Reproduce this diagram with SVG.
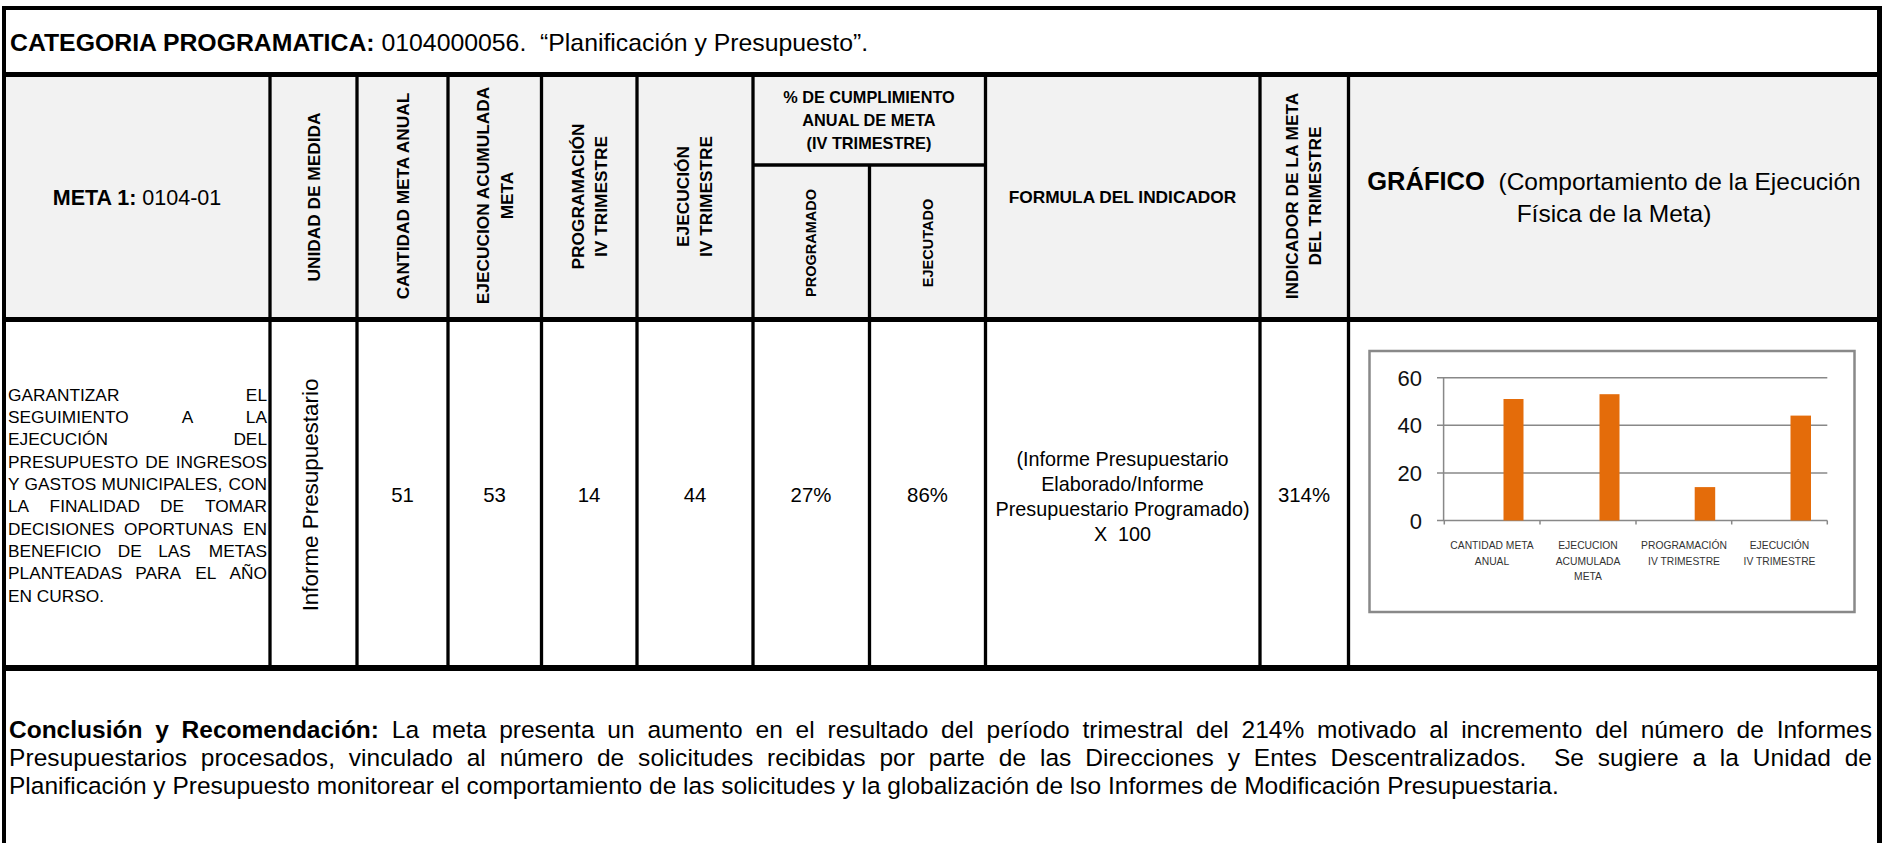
<svg xmlns="http://www.w3.org/2000/svg" width="1885" height="843" viewBox="0 0 1885 843">
<style>
text { font-family: "Liberation Sans", Arial, sans-serif; fill: #000; }
.b { font-weight: bold; }
.hv { font-size: 17.3px; font-weight: bold; text-anchor: middle; }
.hs { font-size: 14.5px; font-weight: bold; text-anchor: middle; }
.hh { font-size: 16.3px; font-weight: bold; text-anchor: middle; }
.num { font-size: 20.4px; text-anchor: middle; }
.body { font-size: 17.3px; }
.end { text-anchor: end; }
.frm { font-size: 19.8px; text-anchor: middle; }
.big { font-size: 24.5px; }
.thin { stroke: #000; stroke-width: 3.3; fill: none; }
.thick { stroke: #000; stroke-width: 5; fill: none; }
.grid { stroke: #888888; stroke-width: 1.5; fill: none; }
.bar { fill: #E46C0A; }
.yl { font-family: "Liberation Sans", Arial, sans-serif; font-size: 22px; text-anchor: end; fill: #111; }
.xl { font-size: 10.3px; text-anchor: middle; fill: #333; }
</style>
<rect x="0" y="0" width="1885" height="843" fill="#fff"/>
<rect x="6" y="77" width="1871" height="240" fill="#F2F2F2"/>

<g id="table-lines">
  <line class="thick" x1="2" y1="8" x2="1882" y2="8" style="stroke-width:4"/>
  <line class="thick" x1="4" y1="6" x2="4" y2="843" style="stroke-width:4"/>
  <line class="thick" x1="1879.5" y1="6" x2="1879.5" y2="843"/>
  <line class="thick" x1="2" y1="74.5" x2="1882" y2="74.5"/>
  <line class="thick" x1="2" y1="319.5" x2="1882" y2="319.5"/>
  <line class="thick" x1="2" y1="668" x2="1882" y2="668" style="stroke-width:6"/>
  <line class="thin" x1="270" y1="77" x2="270" y2="666"/>
  <line class="thin" x1="357" y1="77" x2="357" y2="666"/>
  <line class="thin" x1="448" y1="77" x2="448" y2="666"/>
  <line class="thin" x1="541.5" y1="77" x2="541.5" y2="666"/>
  <line class="thin" x1="637" y1="77" x2="637" y2="666"/>
  <line class="thin" x1="753" y1="77" x2="753" y2="666"/>
  <line class="thin" x1="869.5" y1="165" x2="869.5" y2="666"/>
  <line class="thin" x1="985.5" y1="77" x2="985.5" y2="666"/>
  <line class="thin" x1="1260" y1="77" x2="1260" y2="666"/>
  <line class="thin" x1="1348.5" y1="77" x2="1348.5" y2="666"/>
  <line class="thin" x1="753" y1="165" x2="985.5" y2="165"/>
</g>

<g id="title">
  <text x="10" y="50.5" style="font-size:24.8px"><tspan class="b">CATEGORIA PROGRAMATICA:</tspan> 0104000056.&#160; “Planificación y Presupuesto”.</text>
</g>

<g id="header">
  <text x="137" y="205" text-anchor="middle" style="font-size:21.5px"><tspan class="b">META 1:</tspan> 0104-01</text>
  <g transform="translate(313.5,197) rotate(-90)"><text class="hv" x="0" y="6.2">UNIDAD DE MEDIDA</text></g>
  <g transform="translate(402.5,196) rotate(-90)"><text class="hv" x="0" y="6.2">CANTIDAD META ANUAL</text></g>
  <g transform="translate(494.5,195.5) rotate(-90)"><text class="hv" x="0" y="-5.5">EJECUCION ACUMULADA</text><text class="hv" x="0" y="18">META</text></g>
  <g transform="translate(589,196.5) rotate(-90)"><text class="hv" x="0" y="-5.5">PROGRAMACIÓN</text><text class="hv" x="0" y="18">IV TRIMESTRE</text></g>
  <g transform="translate(694,196.5) rotate(-90)"><text class="hv" x="0" y="-5.5">EJECUCIÓN</text><text class="hv" x="0" y="18">IV TRIMESTRE</text></g>
  <text class="hh" x="869" y="103">% DE CUMPLIMIENTO</text>
  <text class="hh" x="869" y="126">ANUAL DE META</text>
  <text class="hh" x="869" y="149">(IV TRIMESTRE)</text>
  <g transform="translate(811,243) rotate(-90)"><text class="hs" x="0" y="5.2">PROGRAMADO</text></g>
  <g transform="translate(927.5,243) rotate(-90)"><text class="hs" x="0" y="5.2">EJECUTADO</text></g>
  <text class="hv" x="1122.5" y="203">FORMULA DEL INDICADOR</text>
  <g transform="translate(1303,196) rotate(-90)"><text class="hv" x="0" y="-5.5">INDICADOR DE LA META</text><text class="hv" x="0" y="18">DEL TRIMESTRE</text></g>
  <text class="big" x="1614" y="190" text-anchor="middle"><tspan class="b" style="font-size:25.5px">GRÁFICO</tspan>&#160; (Comportamiento de la Ejecución</text>
  <text class="big" x="1614" y="221.5" text-anchor="middle">Física de la Meta)</text>
</g>

<g id="meta-description">
  <text class="body" x="8" y="400.5">GARANTIZAR</text><text class="body end" x="267" y="400.5">EL</text>
  <text class="body" y="422.9"><tspan x="8">SEGUIMIENTO</tspan><tspan x="181.7">A</tspan></text><text class="body end" x="267" y="422.9">LA</text>
  <text class="body" x="8" y="445.2">EJECUCIÓN</text><text class="body end" x="267" y="445.2">DEL</text>
  <text class="body" y="467.6"><tspan x="8">PRESUPUESTO</tspan><tspan x="145.3">DE</tspan></text><text class="body end" x="267" y="467.6">INGRESOS</text>
  <text class="body" y="489.9"><tspan x="8">Y</tspan><tspan x="24.5">GASTOS</tspan><tspan x="101.6">MUNICIPALES,</tspan></text><text class="body end" x="267" y="489.9">CON</text>
  <text class="body" y="512.3"><tspan x="8">LA</tspan><tspan x="49.6">FINALIDAD</tspan><tspan x="160">DE</tspan></text><text class="body end" x="267" y="512.3">TOMAR</text>
  <text class="body" y="534.6"><tspan x="8">DECISIONES</tspan><tspan x="124.1">OPORTUNAS</tspan></text><text class="body end" x="267" y="534.6">EN</text>
  <text class="body" y="557"><tspan x="8">BENEFICIO</tspan><tspan x="117.7">DE</tspan><tspan x="158.2">LAS</tspan></text><text class="body end" x="267" y="557">METAS</text>
  <text class="body" y="579.3"><tspan x="8">PLANTEADAS</tspan><tspan x="135.3">PARA</tspan><tspan x="195.3">EL</tspan></text><text class="body end" x="267" y="579.3">AÑO</text>
  <text class="body" x="8" y="601.7">EN CURSO.</text>
</g>

<g id="unidad">
  <g transform="translate(313.5,495) rotate(-90)"><text x="0" y="4.5" text-anchor="middle" style="font-size:22.4px">Informe Presupuestario</text></g>
</g>

<g id="values">
  <text class="num" x="402.5" y="502">51</text>
  <text class="num" x="494.5" y="502">53</text>
  <text class="num" x="589" y="502">14</text>
  <text class="num" x="695" y="502">44</text>
  <text class="num" x="811" y="502">27%</text>
  <text class="num" x="927.5" y="502">86%</text>
  <text class="num" x="1304" y="502">314%</text>
</g>

<g id="formula">
  <text class="frm" x="1122.5" y="465.5">(Informe Presupuestario</text>
  <text class="frm" x="1122.5" y="490.5">Elaborado/Informe</text>
  <text class="frm" x="1122.5" y="515.5">Presupuestario Programado)</text>
  <text class="frm" x="1122.5" y="540.5">X&#160; 100</text>
</g>

<g id="chart">
  <rect x="1369.5" y="351" width="485" height="261" fill="#fff" stroke="#898989" stroke-width="2.5"/>
  <line class="grid" x1="1437" y1="377.7" x2="1827.3" y2="377.7"/>
  <line class="grid" x1="1437" y1="425.3" x2="1827.3" y2="425.3"/>
  <line class="grid" x1="1437" y1="473" x2="1827.3" y2="473"/>
  <line class="grid" x1="1437" y1="520.5" x2="1827.3" y2="520.5"/>
  <line class="grid" x1="1443.6" y1="377.7" x2="1443.6" y2="520.5"/>
  <line class="grid" x1="1444.3" y1="520.5" x2="1444.3" y2="524.5"/>
  <line class="grid" x1="1540" y1="520.5" x2="1540" y2="524.5"/>
  <line class="grid" x1="1636" y1="520.5" x2="1636" y2="524.5"/>
  <line class="grid" x1="1731.7" y1="520.5" x2="1731.7" y2="524.5"/>
  <line class="grid" x1="1827.3" y1="520.5" x2="1827.3" y2="524.5"/>
  <rect class="bar" x="1503.5" y="399" width="20" height="121.5"/>
  <rect class="bar" x="1599.5" y="394.2" width="20" height="126.3"/>
  <rect class="bar" x="1694.7" y="487.1" width="20.5" height="33.4"/>
  <rect class="bar" x="1790.5" y="415.6" width="20.5" height="104.9"/>
  <text class="yl" x="1422" y="385.7">60</text>
  <text class="yl" x="1422" y="433.3">40</text>
  <text class="yl" x="1422" y="481">20</text>
  <text class="yl" x="1422" y="528.5">0</text>
  <text class="xl" x="1492" y="549">CANTIDAD META</text>
  <text class="xl" x="1492" y="564.5">ANUAL</text>
  <text class="xl" x="1588" y="549">EJECUCION</text>
  <text class="xl" x="1588" y="564.5">ACUMULADA</text>
  <text class="xl" x="1588" y="580">META</text>
  <text class="xl" x="1684" y="549">PROGRAMACIÓN</text>
  <text class="xl" x="1684" y="564.5">IV TRIMESTRE</text>
  <text class="xl" x="1779.5" y="549">EJECUCIÓN</text>
  <text class="xl" x="1779.5" y="564.5">IV TRIMESTRE</text>
</g>

<g id="conclusion">
  <text class="big" x="9" y="738" textLength="1863" lengthAdjust="spacing" style="word-spacing:6px"><tspan class="b">Conclusión y Recomendación:</tspan> La meta presenta un aumento en el resultado del período trimestral del 214% motivado al incremento del número de Informes</text>
  <text class="big" x="9" y="766" textLength="1863" lengthAdjust="spacing" style="word-spacing:6.9px">Presupuestarios procesados, vinculado al número de solicitudes recibidas por parte de las Direcciones y Entes Descentralizados.&#160; Se sugiere a la Unidad de</text>
  <text class="big" x="9" y="794">Planificación y Presupuesto monitorear el comportamiento de las solicitudes y la globalización de lso Informes de Modificación Presupuestaria.</text>
</g>
</svg>
